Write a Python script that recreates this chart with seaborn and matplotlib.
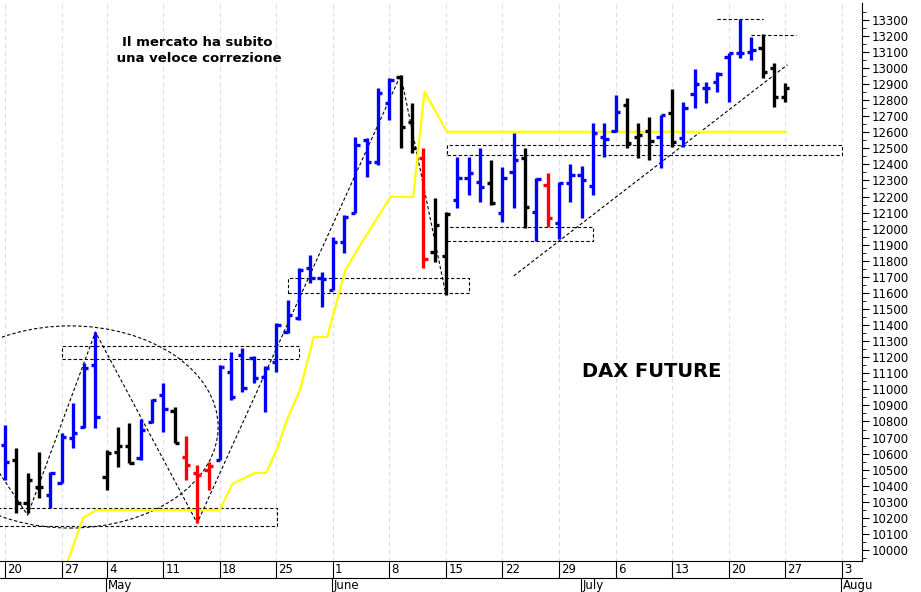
import matplotlib
matplotlib.use("Agg")
import matplotlib.pyplot as plt
from matplotlib.patches import Rectangle, Ellipse
import seaborn as sns
import numpy as np
import pandas as pd

sns.set_style("white")
plt.rcParams['font.family'] = ['DejaVu Sans']
plt.rcParams['text.color'] = 'black'
plt.rcParams['ytick.color'] = 'black'
plt.rcParams['xtick.color'] = 'black'

# OHLC by trading-day index (0 = 20 Apr)
opens = [10654,10560,10293,10392,10343,10417,10698,10766,11152,10455,10610,10648,10573,10797,10965,10865,10579,10480,10498,10560,
         11108,11214,11196,11077,11171,11357,11445,11756,11694,11619,11918,12098,12553,12416,12783,12945,12665,12441,11855,11831,
         12179,12316,12291,12285,12098,12354,12441,12105,12273,12036,12285,12335,12266,12572,12609,12771,12572,12609,12572,12721,
         12565,12839,12877,12914,13070,13095,13101,13126,13001,12821]
highs = [10778,10635,10480,10610,10486,10729,10916,11165,11357,10623,10766,10791,10816,10940,11040,10890,10710,10529,10548,11152,
         11233,11258,11208,11146,11413,11557,11756,11837,11731,11949,12086,12571,12565,12877,12939,12957,12783,12503,12192,12105,
         12447,12447,12503,12428,12385,12596,12503,12316,12347,12291,12403,12391,12659,12659,12833,12814,12659,12696,12708,12870,
         12789,12995,12914,12976,13095,13306,13194,13213,13032,12908]
lows = [10436,10230,10230,10324,10262,10417,10635,10760,10760,10374,10517,10542,10560,10791,10735,10666,10436,10168,10374,10560,
        10934,10984,11040,10860,11108,11351,11432,11663,11513,11619,11849,12098,12322,12397,12677,12503,12472,11756,11793,11588,
        12130,12210,12167,12148,12042,12130,12005,11924,12011,11936,12167,12067,12210,12447,12603,12503,12441,12428,12379,12509,
        12509,12752,12783,12852,12789,13063,13051,12939,12758,12789]
closes = [10548,10293,10436,10392,10480,10704,10729,11133,10828,10604,10648,10542,10747,10934,10878,10666,10529,10467,10523,11140,
          10953,11009,11071,11133,11401,11463,11743,11694,11688,11918,12073,12522,12416,12845,12926,12634,12503,11812,12024,12092,
          12316,12347,12260,12161,12316,12428,12136,12310,12067,12285,12335,12304,12596,12559,12727,12534,12584,12547,12708,12540,
          12752,12901,12877,12964,13095,13095,13113,12976,12821,12877]
colors = list("bkkkb" "bbbbk" "kkbbb" "krrrb" "bbbbbbbbbbbbbbb" "kkrkk" "bbbkb" "bkbrb" "bbbbbk" "kkbkb" "bbbbbb" "kkk")

# yellow indicator line
yl_x = [5.3, 6.9, 8.1, 19, 20.1, 22.1, 23.1, 24.1, 25, 26.1, 27.3, 28.5, 30.1, 31.7, 34.1, 36.1, 37.1, 39.1, 69.1]
yl_y = [9880, 10200, 10249, 10249, 10411, 10480, 10480, 10635, 10822, 10996, 11326, 11326, 11743, 11930, 12198, 12198, 12852, 12603, 12603]

week_idx = [0, 5, 9, 14, 19, 24, 29, 34, 39, 44, 49, 54, 59, 64, 69, 74]
week_lbl = ["20", "27", "4", "11", "18", "25", "1", "8", "15", "22", "29", "6", "13", "20", "27", "3"]
month_idx = [9, 29, 51, 74]
month_lbl = ["May", "June", "July", "Augu"]

cmap = {"b": "#0000ff", "k": "#000000", "r": "#ff0000"}
n = len(opens)
idx = np.arange(n)

fig = plt.figure(figsize=(9.21, 5.92), dpi=100)
ax = fig.add_axes([0.0, 0.0524, 0.936, 0.943])
ax.set_xlim(-0.44, 75.8)
ax.set_ylim(9932, 13406)

for w in week_idx:
    ax.axvline(w, color="#dcdcf0", lw=0.8, ls=(0, (4, 3)), zorder=0)

# dashed boxes
boxes = [(-0.5, 10150, 24.1, 10262), (5.05, 11189, 26, 11270), (25, 11600, 41, 11694),
         (39.1, 11924, 52, 12011), (39.1, 12460, 74, 12522)]
for x0, y0, x1, y1 in boxes:
    ax.add_patch(Rectangle((x0, y0), x1 - x0, y1 - y0, fill=False, ec="black", lw=0.8, ls=(0, (3, 2)), zorder=1))
ax.plot([63, 67], [13306, 13306], color="black", lw=0.8, ls=(0, (3, 2)))
ax.plot([66, 70], [13207, 13207], color="black", lw=0.8, ls=(0, (3, 2)))
ax.plot([45, 69.2], [11706, 13020], color="black", lw=0.8, ls=(0, (3, 2)))
zz_x = [-0.5, 2.0, 8.0, 17.0, 35.0, 39.0]
zz_y = [10480, 10217, 11357, 10168, 12957, 11588]
ax.plot(zz_x, zz_y, color="black", lw=0.8, ls=(0, (3, 2)))
ax.add_patch(Ellipse((5.75, 10766), 26.2, 1258, fill=False, ec="black", lw=0.8, ls=(0, (3, 2))))

sns.lineplot(x=yl_x, y=yl_y, color="#ffff00", lw=1.6, ax=ax, zorder=2)

for i in idx:
    c = cmap[colors[i]]
    ax.vlines(i, lows[i], highs[i], color=c, lw=2.4, zorder=3)
    ax.hlines(opens[i], i - 0.38, i, color=c, lw=2.4, zorder=3)
    ax.hlines(closes[i], i, i + 0.38, color=c, lw=2.4, zorder=3)

ax.text(17, 13110, "Il mercato ha subito\n una veloce correzione", ha="center", va="center",
        fontsize=9.5, fontweight="bold", linespacing=1.3, color="black")
ax.text(57.2, 11110, "DAX FUTURE", ha="center", va="center", fontsize=14, fontweight="bold", color="black")

ax.yaxis.tick_right()
ax.set_yticks(np.arange(10000, 13301, 100))
ax.set_yticks(np.arange(9950, 13400, 50), minor=True)
ax.tick_params(axis="y", which="major", direction="out", length=5, labelsize=8.5, pad=2, right=True, colors="black")
ax.tick_params(axis="y", which="minor", direction="out", length=3, right=True, colors="black")
ax.set_xticks([])
for s in ["top", "left"]:
    ax.spines[s].set_visible(False)
ax.spines["right"].set_color("black")
ax.spines["bottom"].set_color("black")

# date rows
trans = ax.get_xaxis_transform()
for w, l in zip(week_idx, week_lbl):
    ax.plot([w, w], [0, -0.03], color="black", lw=0.8, transform=trans, clip_on=False)
    ax.text(w + 0.2, -0.015, l, transform=trans, ha="left", va="center", fontsize=8.5, clip_on=False, color="black")
ax.plot([-0.44, 75.8], [-0.03, -0.03], color="black", lw=0.8, transform=trans, clip_on=False)
for m, l in zip(month_idx, month_lbl):
    xm = m - 0.1
    ax.plot([xm, xm], [-0.03, -0.06], color="black", lw=0.8, transform=trans, clip_on=False)
    ax.text(xm + 0.2, -0.044, l, transform=trans, ha="left", va="center", fontsize=8.5, clip_on=False, color="black")
ax.set_xlabel("")
ax.set_ylabel("")

fig.savefig("out.png", dpi=100)
